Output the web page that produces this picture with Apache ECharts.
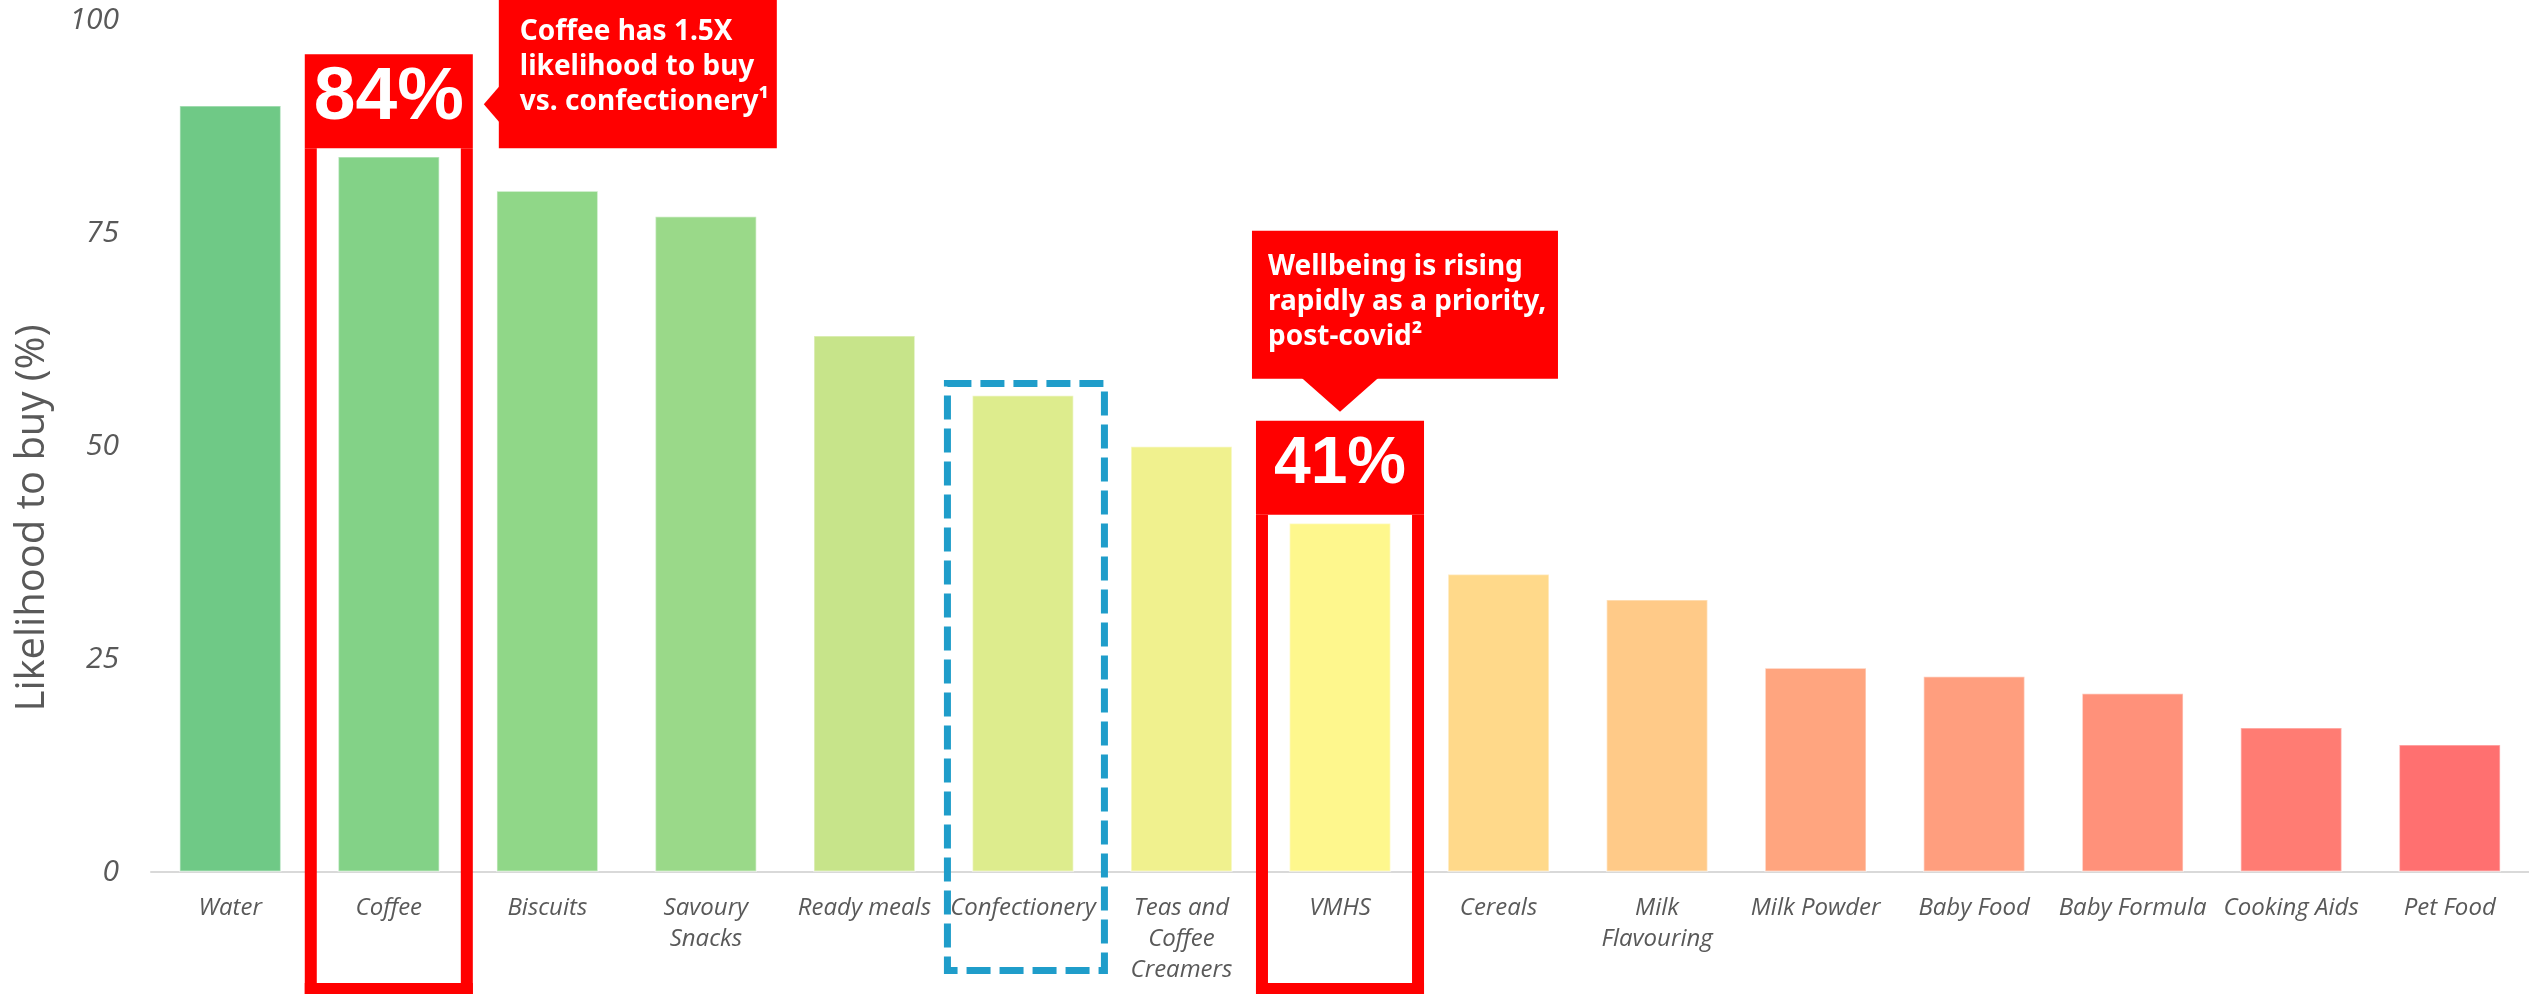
<!DOCTYPE html>
<html>
<head>
<meta charset="utf-8">
<title>Likelihood to buy by category</title>
<script src="https://cdn.jsdelivr.net/npm/echarts@6/dist/echarts.min.js"></script>
<style>
  html, body { margin: 0; padding: 0; background: #ffffff; }
  #chart { width: 2529px; height: 995px; }
</style>
</head>
<body>
<div id="chart"></div>
<script>
// Product categories and their likelihood-to-buy scores (%)
const categories = ['Water', 'Coffee', 'Biscuits', 'Savoury Snacks', 'Ready meals', 'Confectionery',
  'Teas and Coffee Creamers', 'VMHS', 'Cereals', 'Milk Flavouring', 'Milk Powder', 'Baby Food',
  'Baby Formula', 'Cooking Aids', 'Pet Food'];
const tickLabels = ['Water', 'Coffee', 'Biscuits', 'Savoury\nSnacks', 'Ready meals', 'Confectionery',
  'Teas and\nCoffee\nCreamers', 'VMHS', 'Cereals', 'Milk\nFlavouring', 'Milk Powder', 'Baby Food',
  'Baby Formula', 'Cooking Aids', 'Pet Food'];
const likelihood = [90, 84, 80, 77, 63, 56, 50, 41, 35, 32, 24, 23, 21, 17, 15];
const barColors = ['#6FC986', '#83D287', '#90D788', '#9AD989', '#C7E48A', '#DDEC8D', '#F0F18E',
  '#FEF78D', '#FFD98A', '#FFCA88', '#FFA57F', '#FF9E7E', '#FF917A', '#FF7C73', '#FF7070'];
const yTicks = [0, 25, 50, 75, 100];

// Call-out content
const coffeeCallout = 'Coffee has 1.5X\nlikelihood to buy\nvs. confectionery\u00B9';
const vmhsCallout = 'Wellbeing is rising\nrapidly as a priority,\npost-covid\u00B2';

const RED = '#FF0000';
const BLUE = '#1F9DCA';
const GREY = '#595959';

const chart = echarts.init(document.getElementById('chart'), null, { renderer: 'canvas' });

chart.setOption({
  animation: false,
  backgroundColor: '#ffffff',
  grid: { left: 151, right: 0, top: 20, bottom: 123, containLabel: false, outerBoundsMode: 'none' },
  xAxis: {
    type: 'category',
    data: categories,
    axisLine: { lineStyle: { color: '#D9D9D9', width: 2 } },
    axisTick: { show: false },
    axisLabel: {
      interval: 0,
      margin: 21,
      color: GREY,
      fontFamily: 'Open Sans',
      fontStyle: 'italic',
      fontSize: 24,
      lineHeight: 31,
      formatter: (v, i) => tickLabels[i]
    }
  },
  yAxis: {
    type: 'value',
    min: yTicks[0],
    max: yTicks[yTicks.length - 1],
    interval: 25,
    splitLine: { show: false },
    axisLine: { show: false },
    axisTick: { show: false },
    axisLabel: {
      margin: 32,
      color: GREY,
      fontFamily: 'Open Sans',
      fontStyle: 'italic',
      fontSize: 30
    }
  },
  series: [{
    type: 'bar',
    barWidth: '64.5%',
    data: likelihood.map((v, i) => ({
      value: v,
      itemStyle: { color: barColors[i], borderColor: 'rgba(255,255,255,0.45)', borderWidth: 1.5 }
    }))
  }]
});

// Overlay annotations anchored to the axis scales
function buildOverlay() {
  const H = chart.getHeight();
  const px = (i, v) => chart.convertToPixel({ gridIndex: 0 }, [categories[i], v]);
  const band = px(1, 0)[0] - px(0, 0)[0];
  const els = [];

  // y-axis title
  els.push({
    type: 'text', x: 33, y: 518, rotation: Math.PI / 2,
    style: { text: 'Likelihood to buy (%)', fill: GREY, font: '40px "Open Sans"', align: 'center', verticalAlign: 'middle' },
    z: 10
  });

  // red highlight frame with a value header
  function highlight(idx, fontSize) {
    const [cx, top] = px(idx, likelihood[idx]);
    const w = band * 1.06;
    const x0 = cx - w / 2;
    const innerTop = top - 8;
    const headerH = 94;
    const headerTop = innerTop - headerH;
    const bottom = H - 1;
    const t = 12;
    els.push({ type: 'rect', shape: { x: x0, y: headerTop, width: w, height: headerH }, style: { fill: RED }, z: 20 });
    els.push({ type: 'rect', shape: { x: x0, y: innerTop, width: t, height: bottom - innerTop }, style: { fill: RED }, z: 20 });
    els.push({ type: 'rect', shape: { x: x0 + w - t, y: innerTop, width: t, height: bottom - innerTop }, style: { fill: RED }, z: 20 });
    els.push({ type: 'rect', shape: { x: x0, y: bottom - 11, width: w, height: 11 }, style: { fill: RED }, z: 20 });
    els.push({
      type: 'text', x: cx, y: headerTop + 44,
      style: { text: likelihood[idx] + '%', fill: '#ffffff', font: 'bold ' + fontSize + 'px "Liberation Sans"', align: 'center', verticalAlign: 'middle' },
      z: 21
    });
    return { cx, x0, w, innerTop, headerTop };
  }

  const coffee = highlight(1, 75);
  const vmhs = highlight(7, 66);

  // call-out to the right of the coffee frame
  {
    const left = coffee.x0 + coffee.w + 26;
    const tipX = coffee.x0 + coffee.w + 11;
    const tipY = coffee.innerTop - 44;
    els.push({ type: 'rect', shape: { x: left, y: -5, width: 278, height: coffee.innerTop + 5 }, style: { fill: RED }, z: 20 });
    els.push({ type: 'polygon', shape: { points: [[tipX, tipY], [left + 1, tipY - 18.5], [left + 1, tipY + 18.5]] }, style: { fill: RED }, z: 20 });
    els.push({
      type: 'text', x: left + 21, y: coffee.innerTop - 134,
      style: { text: coffeeCallout, fill: '#ffffff', font: 'bold 28px "Noto Sans"', lineHeight: 35, align: 'left', verticalAlign: 'top' },
      z: 21
    });
  }

  // call-out above the VMHS frame
  {
    const left = vmhs.x0 - 4;
    const boxBottom = vmhs.innerTop - 136;
    const boxTop = vmhs.innerTop - 284;
    els.push({ type: 'rect', shape: { x: left, y: boxTop, width: 306, height: boxBottom - boxTop }, style: { fill: RED }, z: 20 });
    els.push({ type: 'polygon', shape: { points: [[vmhs.cx - 38.5, boxBottom - 1], [vmhs.cx + 38.5, boxBottom - 1], [vmhs.cx, vmhs.innerTop - 103]] }, style: { fill: RED }, z: 20 });
    els.push({
      type: 'text', x: left + 16, y: vmhs.innerTop - 265,
      style: { text: vmhsCallout, fill: '#ffffff', font: 'bold 28px "Noto Sans"', lineHeight: 35, align: 'left', verticalAlign: 'top' },
      z: 21
    });
  }

  // dashed comparison frame around confectionery
  {
    const [cx, top] = px(5, likelihood[5]);
    const lw = 7;
    const x0 = cx - 79, x1 = cx + 85;
    const y0 = top - 15, y1 = H - 21;
    els.push({
      type: 'rect',
      shape: { x: x0 + lw / 2, y: y0 + lw / 2, width: x1 - x0 - lw, height: y1 - y0 - lw },
      style: { fill: 'none', stroke: BLUE, lineWidth: lw, lineDash: [24, 9] },
      z: 20
    });
  }

  chart.setOption({ graphic: { elements: els } });
}

buildOverlay();
</script>
</body>
</html>
